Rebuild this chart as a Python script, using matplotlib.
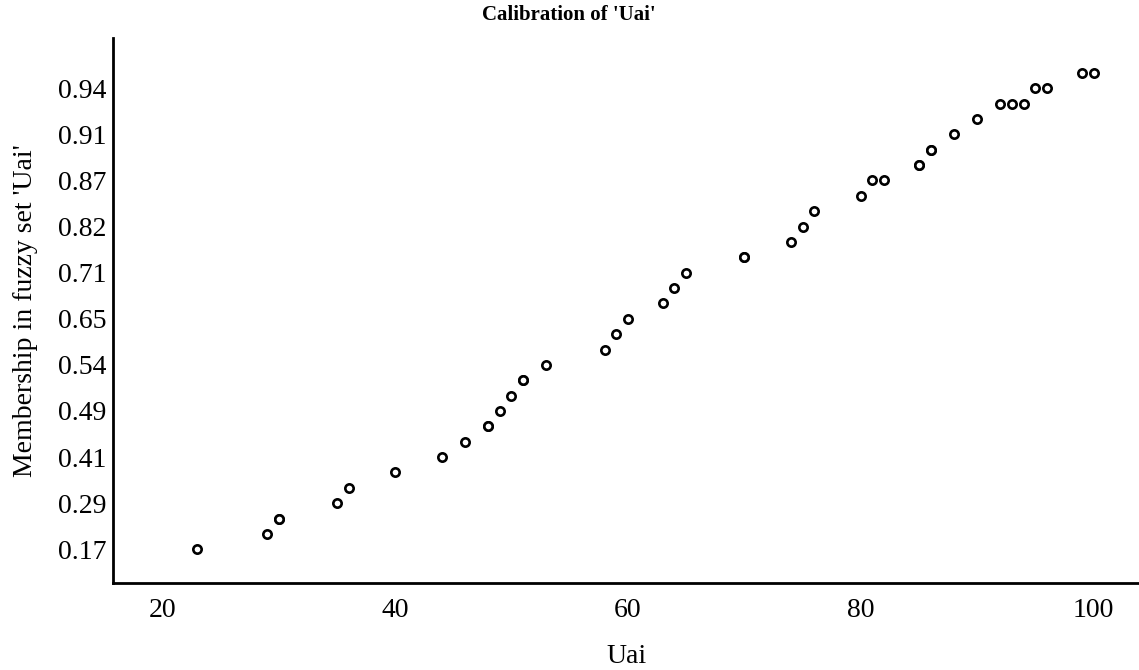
import numpy as np
import matplotlib
matplotlib.use('Agg')
import matplotlib.pyplot as plt

# raw Uai scores and their calibrated membership (duplicates kept)
uai = [23, 29, 30, 30, 35, 36, 40, 44, 46, 48, 48, 49, 50, 51, 51, 53,
       58, 59, 60, 63, 64, 65, 70, 70, 74, 75, 76, 80, 81, 82, 85, 85,
       86, 86, 88, 90, 92, 93, 94, 95, 96, 99, 100]
membership = [0.17, 0.23, 0.24, 0.24, 0.29, 0.30, 0.35, 0.41, 0.44, 0.47, 0.47,
              0.49, 0.51, 0.52, 0.52, 0.54, 0.61, 0.63, 0.65, 0.68, 0.70, 0.71,
              0.77, 0.77, 0.81, 0.82, 0.83, 0.86, 0.87, 0.87, 0.89, 0.89, 0.90,
              0.90, 0.91, 0.92, 0.93, 0.93, 0.93, 0.94, 0.94, 0.95, 0.95]
x_ticks = [20, 40, 60, 80, 100]

# membership is shown as a discrete axis: one row per distinct value
levels, y_pos = np.unique(membership, return_inverse=True)
tick_idx = np.arange(0, len(levels), 3)

plt.rcParams['font.family'] = ['Liberation Serif', 'DejaVu Serif']

fig = plt.figure(figsize=(11.39, 6.70), dpi=100)
ax = fig.add_axes([0.0995, 0.1299, 0.9005, 0.8134])

ax.plot(uai, y_pos, linestyle='none', marker='o', markersize=6,
        markerfacecolor='white', markeredgecolor='black', markeredgewidth=1.9)

ax.set_xlim(15.8, 103.9)
ax.set_ylim(-2.19, 33.27)
ax.set_xticks(x_ticks)
ax.set_yticks(tick_idx)
ax.set_yticklabels(['%.2f' % levels[i] for i in tick_idx])
ax.tick_params(axis='both', length=0, labelsize=20)
ax.tick_params(axis='x', pad=11)
ax.tick_params(axis='y', pad=5)

for side in ['top', 'right']:
    ax.spines[side].set_visible(False)
for side in ['left', 'bottom']:
    ax.spines[side].set_linewidth(2)

ax.set_xlabel('Uai', fontsize=20, labelpad=15)
ax.set_ylabel("Membership in fuzzy set 'Uai'", fontsize=20, labelpad=14)
fig.text(0.4995, 0.977, "Calibration of 'Uai'", ha='center', va='center',
         fontsize=15, fontweight='bold', fontstretch='condensed')

fig.savefig('out.png', dpi=100)
